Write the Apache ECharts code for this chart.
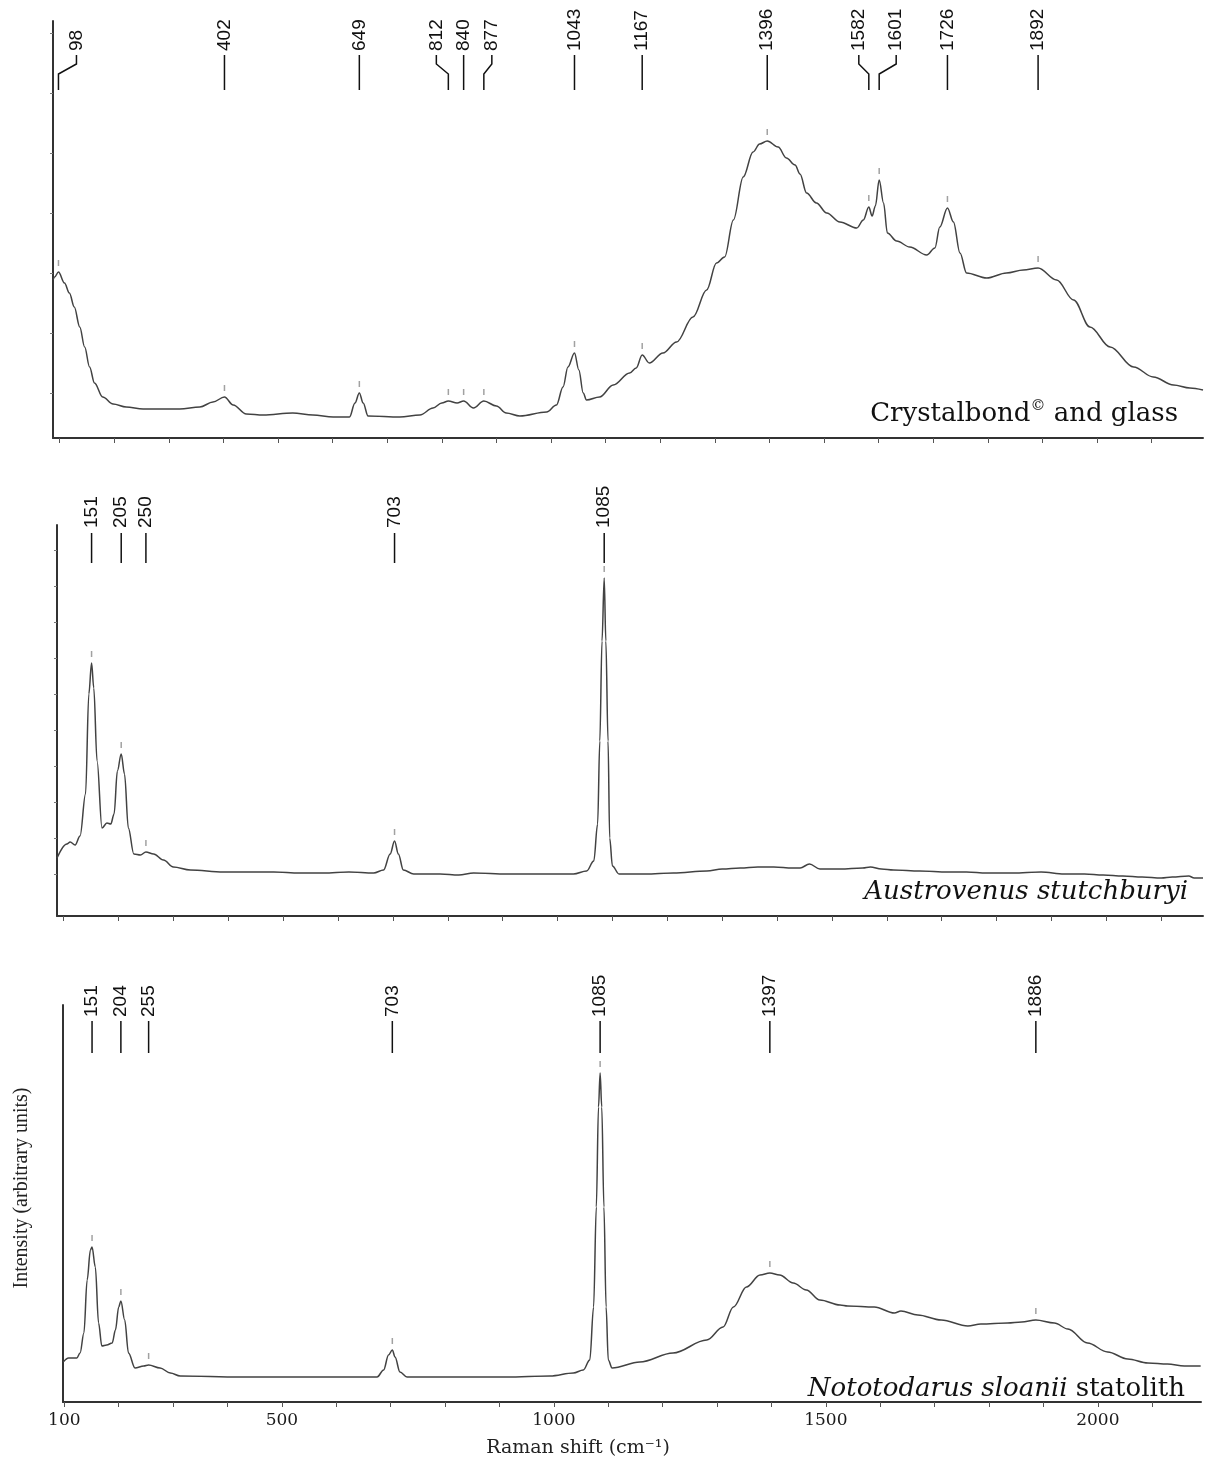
<!DOCTYPE html>
<html>
<head>
<meta charset="utf-8">
<script src="https://cdn.jsdelivr.net/npm/echarts@6/dist/echarts.min.js"></script>
<style>
  html, body { margin: 0; padding: 0; background: #ffffff; }
  #chart { width: 1208px; height: 1470px; }
</style>
</head>
<body>
<div id="chart"></div>
<script>
// Raman spectra, [Raman shift (cm-1), intensity (a.u.)]
const crystalbondSpectrum = [
  [88,158],[91,161],[98,166],[109,155],[118,145],[127,131],[137,111],[146,91],[155,71],[164,55],
  [179,41],[198,34],[222,31],[253,29],[320,29],[357,31],[381,36],[402,41],[418,33],[442,24],
  [473,23],[527,25],[564,23],[601,21],[631,21],[641,35],[649,45],[656,35],[665,22],[723,21],
  [760,23],[784,30],[800,35],[812,37],[828,35],[840,37],[858,30],[877,37],[900,32],[918,25],
  [943,22],[992,26],[1010,33],[1022,51],[1031,71],[1043,85],[1051,68],[1059,45],[1065,38],[1089,41],
  [1114,53],[1144,65],[1156,70],[1167,83],[1180,75],[1205,85],[1230,96],[1260,121],[1285,148],[1303,175],
  [1318,181],[1334,218],[1352,261],[1370,286],[1382,294],[1396,297],[1416,291],[1431,280],[1447,273],[1456,264],
  [1468,245],[1486,235],[1505,225],[1529,216],[1560,210],[1572,218],[1582,231],[1588,222],[1594,232],[1601,258],
  [1609,235],[1616,205],[1633,197],[1657,191],[1688,183],[1703,190],[1712,211],[1726,230],[1737,216],[1749,185],
  [1761,165],[1798,160],[1834,165],[1865,168],[1892,170],[1926,158],[1957,138],[1987,111],[2024,91],[2067,71],
  [2103,61],[2140,53],[2170,50],[2194,48]
];
const austrovenusSpectrum = [
  [88,58],[106,72],[112,74],[121,71],[130,80],[140,122],[146,222],[151,253],[155,228],[161,155],
  [170,88],[179,93],[186,92],[192,102],[198,145],[205,162],[211,142],[218,88],[228,62],[240,61],
  [250,64],[264,62],[282,56],[300,49],[331,46],[391,44],[483,44],[530,43],[574,43],[620,44],
  [665,43],[683,46],[695,62],[703,75],[710,62],[719,46],[738,42],[786,42],[820,41],[847,43],
  [908,42],[968,42],[1029,42],[1053,45],[1066,55],[1073,92],[1077,175],[1081,275],[1085,338],[1088,275],
  [1092,175],[1095,78],[1100,50],[1112,42],[1160,42],[1211,43],[1272,45],[1300,47],[1333,48],[1365,49],
  [1394,49],[1428,48],[1442,48],[1459,52],[1478,47],[1515,47],[1556,48],[1570,49],[1590,47],[1612,46],
  [1660,45],[1711,44],[1745,44],[1782,43],[1830,43],[1881,44],[1923,42],[1960,42],[1994,41],[2030,40],
  [2065,39],[2100,38],[2120,39],[2150,40],[2160,38],[2176,38]
];
const nototodarusSpectrum = [
  [98,40],[108,44],[123,44],[129,49],[136,69],[142,122],[148,152],[151,155],[157,135],[163,79],
  [169,56],[178,57],[188,59],[194,72],[200,95],[204,101],[211,82],[218,49],[230,34],[246,36],
  [255,37],[276,34],[295,29],[313,26],[423,25],[546,25],[675,25],[687,32],[696,47],[703,52],
  [708,45],[717,30],[730,25],[791,25],[913,25],[993,26],[1036,29],[1054,32],[1066,42],[1073,95],
  [1078,195],[1082,295],[1085,329],[1088,295],[1092,195],[1096,95],[1100,42],[1107,34],[1158,40],[1219,49],
  [1281,62],[1311,75],[1330,95],[1354,115],[1379,127],[1397,129],[1415,127],[1440,119],[1464,112],[1489,102],
  [1526,97],[1540,96],[1589,95],[1626,89],[1638,91],[1669,87],[1712,82],[1761,76],[1785,78],[1834,79],
  [1860,80],[1886,82],[1920,79],[1945,73],[1981,59],[2018,50],[2055,43],[2092,39],[2128,38],[2159,36],
  [2189,36]
];

// Assigned band positions (cm-1)
const crystalbondPeaks = [98, 402, 649, 812, 840, 877, 1043, 1167, 1396, 1582, 1601, 1726, 1892];
const austrovenusPeaks = [151, 205, 250, 703, 1085];
const nototodarusPeaks = [151, 204, 255, 703, 1085, 1397, 1886];

// Axis ticks and labels
const shiftTicks = [100,200,300,400,500,600,700,800,900,1000,1100,1200,1300,1400,1500,1600,1700,1800,1900,2000,2100];
const shiftTickLabels = [100, 500, 1000, 1500, 2000];
const xAxisTitle = 'Raman shift (cm\u207B\u00B9)';
const yAxisTitle = 'Intensity (arbitrary units)';

// ---- layout of the three stacked panels ----
const panels = [
  { spectrum: crystalbondSpectrum, peaks: crystalbondPeaks,
    left: 53, top: 21, height: 417, right: 5, min: 88, max: 2194,
    yTicks: [45,105,165,225,285,345,405],
    textBottom: 51, lineTop: 55, lineBottom: 90,
    offsets: { 98: 18, 812: -12, 877: 8, 1582: -10, 1601: 17 } },
  { spectrum: austrovenusSpectrum, peaks: austrovenusPeaks,
    left: 57, top: 525, height: 391, right: 5, min: 88, max: 2176,
    yTicks: [42,78,114,150,186,222,258,294,330,366],
    textBottom: 528, lineTop: 533, lineBottom: 563, offsets: {} },
  { spectrum: nototodarusSpectrum, peaks: nototodarusPeaks,
    left: 63, top: 1005, height: 397, right: 7, min: 97.6, max: 2189.6,
    yTicks: [],
    textBottom: 1017, lineTop: 1021, lineBottom: 1053, offsets: {} }
];

const LINE = '#424242';
const AXIS = '#333333';

const chart = echarts.init(document.getElementById('chart'), null, { renderer: 'canvas' });

const grid = panels.map(p => ({ left: p.left, right: p.right, top: p.top, height: p.height }));
const xAxis = panels.map((p, i) => ({
  type: 'value', gridIndex: i, min: p.min, max: p.max,
  axisLine: { show: true, onZero: false, lineStyle: { color: AXIS, width: 2 } },
  axisTick: { show: true, customValues: shiftTicks, length: 5, lineStyle: { color: '#555', width: 1 } },
  axisLabel: i === 2 ? {
    show: true, customValues: shiftTickLabels, margin: 10,
    formatter: v => String(v),
    fontFamily: 'DejaVu Serif', fontSize: 17, color: '#1a1a1a'
  } : { show: false },
  splitLine: { show: false }
}));
const yAxis = panels.map((p, i) => ({
  type: 'value', gridIndex: i, min: 0, max: p.height,
  axisLine: { show: true, lineStyle: { color: AXIS, width: 2 } },
  axisTick: { show: p.yTicks.length > 0, customValues: p.yTicks, length: 3, lineStyle: { color: '#777', width: 1 } },
  axisLabel: { show: false },
  splitLine: { show: false }
}));

const series = [];
panels.forEach((p, i) => {
  series.push({
    type: 'line', xAxisIndex: i, yAxisIndex: i, data: p.spectrum,
    showSymbol: false, smooth: 0.35, smoothMonotone: 'x',
    lineStyle: { color: LINE, width: 1.5 }, silent: true
  });
  // small ticks above each assigned band
  const marks = p.peaks.map(v => p.spectrum.find(d => d[0] === v)).filter(Boolean);
  series.push({
    type: 'scatter', xAxisIndex: i, yAxisIndex: i, data: marks,
    symbol: 'rect', symbolSize: [1.5, 6], symbolOffset: [0, -9],
    itemStyle: { color: '#8a8a8a' }, silent: true
  });
});

chart.setOption({ animation: false, backgroundColor: '#ffffff', grid, xAxis, yAxis, series });

// ---- band labels, panel captions and axis titles ----
const graphics = [];
panels.forEach((p, i) => {
  p.peaks.forEach(v => {
    const px = chart.convertToPixel({ xAxisIndex: i }, v);
    const dx = p.offsets[v] || 0;
    const tx = px + dx;
    graphics.push({
      type: 'text', x: tx, y: p.textBottom, rotation: Math.PI / 2, silent: true,
      style: { text: String(v), font: '19px "Liberation Sans", Arial, sans-serif',
               fill: '#111', align: 'left', verticalAlign: 'middle',
               textAlign: 'left', textVerticalAlign: 'middle' }
    });
    const pts = dx === 0
      ? [[px, p.lineTop], [px, p.lineBottom]]
      : [[tx, p.lineTop], [tx, p.lineTop + 9], [px, p.lineTop + 19], [px, p.lineBottom]];
    graphics.push({
      type: 'polyline', silent: true, shape: { points: pts },
      style: { stroke: '#111', lineWidth: 1.5, fill: null }
    });
  });
});

const captionFont = 'DejaVu Serif';
graphics.push({
  type: 'text', x: 1178, y: 414, silent: true,
  style: {
    text: '{n|Crystalbond}{s|\u00A9}{n| and glass}',
    align: 'right', verticalAlign: 'middle', textAlign: 'right', textVerticalAlign: 'middle',
    rich: {
      n: { fontFamily: captionFont, fontSize: 26, fill: '#111', lineHeight: 30 },
      s: { fontFamily: captionFont, fontSize: 15, fill: '#111', verticalAlign: 'top', lineHeight: 30 }
    }
  }
});
graphics.push({
  type: 'text', x: 1188, y: 892, silent: true,
  style: {
    text: 'Austrovenus stutchburyi',
    font: 'italic 26px "DejaVu Serif"', fill: '#111',
    align: 'right', verticalAlign: 'middle', textAlign: 'right', textVerticalAlign: 'middle'
  }
});
graphics.push({
  type: 'text', x: 1185, y: 1389, silent: true,
  style: {
    text: '{i|Nototodarus sloanii}{n| statolith}',
    align: 'right', verticalAlign: 'middle', textAlign: 'right', textVerticalAlign: 'middle',
    rich: {
      i: { fontFamily: captionFont, fontStyle: 'italic', fontSize: 26, fill: '#111' },
      n: { fontFamily: captionFont, fontSize: 26, fill: '#111' }
    }
  }
});
graphics.push({
  type: 'text', x: 578, y: 1448, silent: true,
  style: { text: xAxisTitle, font: '19px "DejaVu Serif"', fill: '#222',
           align: 'center', verticalAlign: 'middle', textAlign: 'center', textVerticalAlign: 'middle' }
});
graphics.push({
  type: 'text', x: 22, y: 1188, rotation: Math.PI / 2, silent: true,
  style: { text: yAxisTitle, font: '20px "Liberation Serif"', fill: '#222',
           align: 'center', verticalAlign: 'middle', textAlign: 'center', textVerticalAlign: 'middle' }
});

chart.setOption({ graphic: { elements: graphics } });
</script>
</body>
</html>
